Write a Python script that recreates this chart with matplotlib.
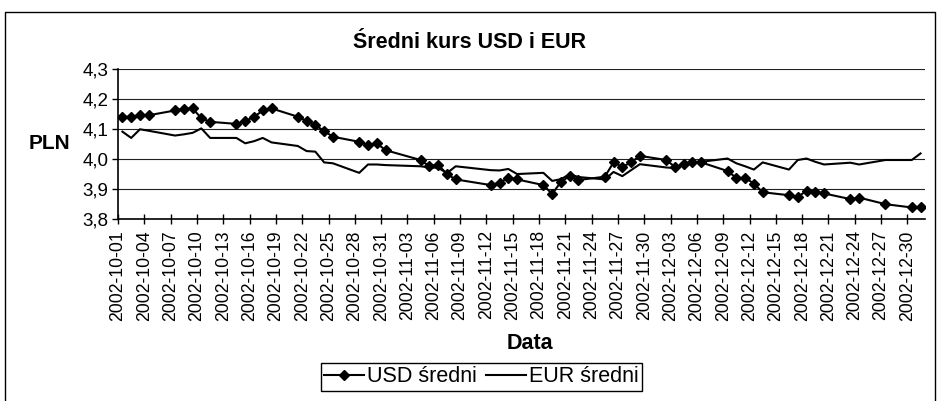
import matplotlib
matplotlib.use("Agg")
import matplotlib.pyplot as plt
import matplotlib.dates as mdates
from matplotlib.lines import Line2D
from matplotlib.ticker import FuncFormatter, MultipleLocator
import pandas as pd

plt.rcParams['font.family'] = ['Liberation Sans', 'DejaVu Sans']

# Business days with an NBP fixing (Oct - Dec 2002)
dates = [
    '2002-10-01', '2002-10-02', '2002-10-03', '2002-10-04', '2002-10-07',
    '2002-10-08', '2002-10-09', '2002-10-10', '2002-10-11', '2002-10-14',
    '2002-10-15', '2002-10-16', '2002-10-17', '2002-10-18', '2002-10-21',
    '2002-10-22', '2002-10-23', '2002-10-24', '2002-10-25', '2002-10-28',
    '2002-10-29', '2002-10-30', '2002-10-31',
    '2002-11-04', '2002-11-05', '2002-11-06', '2002-11-07', '2002-11-08',
    '2002-11-12', '2002-11-13', '2002-11-14', '2002-11-15', '2002-11-18',
    '2002-11-19', '2002-11-20', '2002-11-21', '2002-11-22', '2002-11-25',
    '2002-11-26', '2002-11-27', '2002-11-28', '2002-11-29',
    '2002-12-02', '2002-12-03', '2002-12-04', '2002-12-05', '2002-12-06',
    '2002-12-09', '2002-12-10', '2002-12-11', '2002-12-12', '2002-12-13',
    '2002-12-16', '2002-12-17', '2002-12-18', '2002-12-19', '2002-12-20',
    '2002-12-23', '2002-12-24', '2002-12-27', '2002-12-30', '2002-12-31',
]

usd = [
    4.141, 4.141, 4.146, 4.146, 4.162, 4.167, 4.169, 4.136, 4.124, 4.117,
    4.127, 4.140, 4.162, 4.169, 4.141, 4.127, 4.113, 4.093, 4.074, 4.057,
    4.046, 4.052, 4.029,
    3.996, 3.975, 3.980, 3.949, 3.931, 3.912, 3.920, 3.936, 3.931, 3.912,
    3.882, 3.923, 3.942, 3.929, 3.940, 3.988, 3.973, 3.988, 4.010,
    3.996, 3.973, 3.982, 3.988, 3.988, 3.959, 3.936, 3.936, 3.917, 3.888,
    3.878, 3.872, 3.893, 3.889, 3.884, 3.865, 3.870, 3.848, 3.837, 3.837,
]

eur = [
    4.091, 4.070, 4.099, 4.094, 4.078, 4.082, 4.087, 4.102, 4.070, 4.070,
    4.052, 4.059, 4.070, 4.055, 4.043, 4.026, 4.024, 3.988, 3.985, 3.953,
    3.981, 3.981, 3.979,
    3.975, 3.971, 3.970, 3.952, 3.975, 3.962, 3.961, 3.966, 3.949, 3.953,
    3.926, 3.932, 3.948, 3.939, 3.931, 3.956, 3.942, 3.962, 3.982,
    3.971, 3.969, 3.978, 3.985, 3.990, 4.001, 3.985, 3.975, 3.964, 3.988,
    3.964, 3.996, 4.001, 3.990, 3.981, 3.987, 3.981, 3.996, 3.996, 4.018,
]

title = 'Średni kurs USD i EUR'
series_names = ['USD średni', 'EUR średni']

# points sit in the middle of each day, like the Excel date axis
x = pd.to_datetime(dates) + pd.Timedelta(hours=12)
ticks = pd.date_range('2002-10-01', '2002-12-30', freq='3D')

fig = plt.figure(figsize=(9.39, 4.01), dpi=100)
ax = fig.add_axes([0.1257, 0.4551, 0.8593, 0.3721])

ax.plot(x, usd, color='black', lw=1.5, marker='D', markersize=5.5,
        label=series_names[0])
ax.plot(x, eur, color='black', lw=1.5, label=series_names[1])

ax.set_xlim(pd.Timestamp('2002-10-01'), pd.Timestamp('2003-01-01'))
ax.set_ylim(3.8, 4.3)
ax.yaxis.set_major_locator(MultipleLocator(0.1))
ax.yaxis.set_major_formatter(FuncFormatter(lambda v, p: f"{v:.1f}".replace('.', ',')))
ax.grid(axis='y', color='#222222', lw=0.8)
ax.set_axisbelow(True)

ax.set_xticks(ticks)
ax.xaxis.set_major_formatter(mdates.DateFormatter('%Y-%m-%d'))
plt.setp(ax.get_xticklabels(), rotation=90, ha='center', va='top')

ax.tick_params(axis='y', direction='out', length=4, width=1, labelsize=13.5, pad=3)
ax.tick_params(axis='x', direction='inout', length=7, width=1, labelsize=12.7, pad=5)

for s in ['top', 'right']:
    ax.spines[s].set_visible(False)
for s in ['left', 'bottom']:
    ax.spines[s].set_linewidth(1.2)
    ax.spines[s].set_color('black')

ax.set_ylabel('PLN', rotation=0, fontsize=15, fontweight='bold', ha='center', va='center')
ax.yaxis.set_label_coords(-0.0855, 0.506)
ax.set_xlabel('Data', fontsize=15.5, fontweight='bold', va='center')
ax.xaxis.set_label_coords(0.51, -0.84)

fig.text(0.5, 1 - 43 / 401, title, ha='center', va='center',
         fontsize=15.5, fontweight='bold')

leg = fig.legend(loc='center', bbox_to_anchor=(481.5 / 939, 1 - 377 / 401), ncol=2,
                 fontsize=15.5, frameon=True, fancybox=False, handlelength=1.85,
                 columnspacing=0.45, handletextpad=0.15, borderpad=0.15,
                 borderaxespad=0)
leg.get_frame().set_edgecolor('black')
leg.get_frame().set_linewidth(1)
leg.get_frame().set_alpha(None)

# outer chart border
l, r, t = 5 / 939, 935 / 939, 1 - 12 / 401
fig.add_artist(Line2D([l, l, r, r], [0, t, t, 0], transform=fig.transFigure,
                      color='black', lw=1))

fig.savefig('out.png', dpi=100, facecolor='white')
